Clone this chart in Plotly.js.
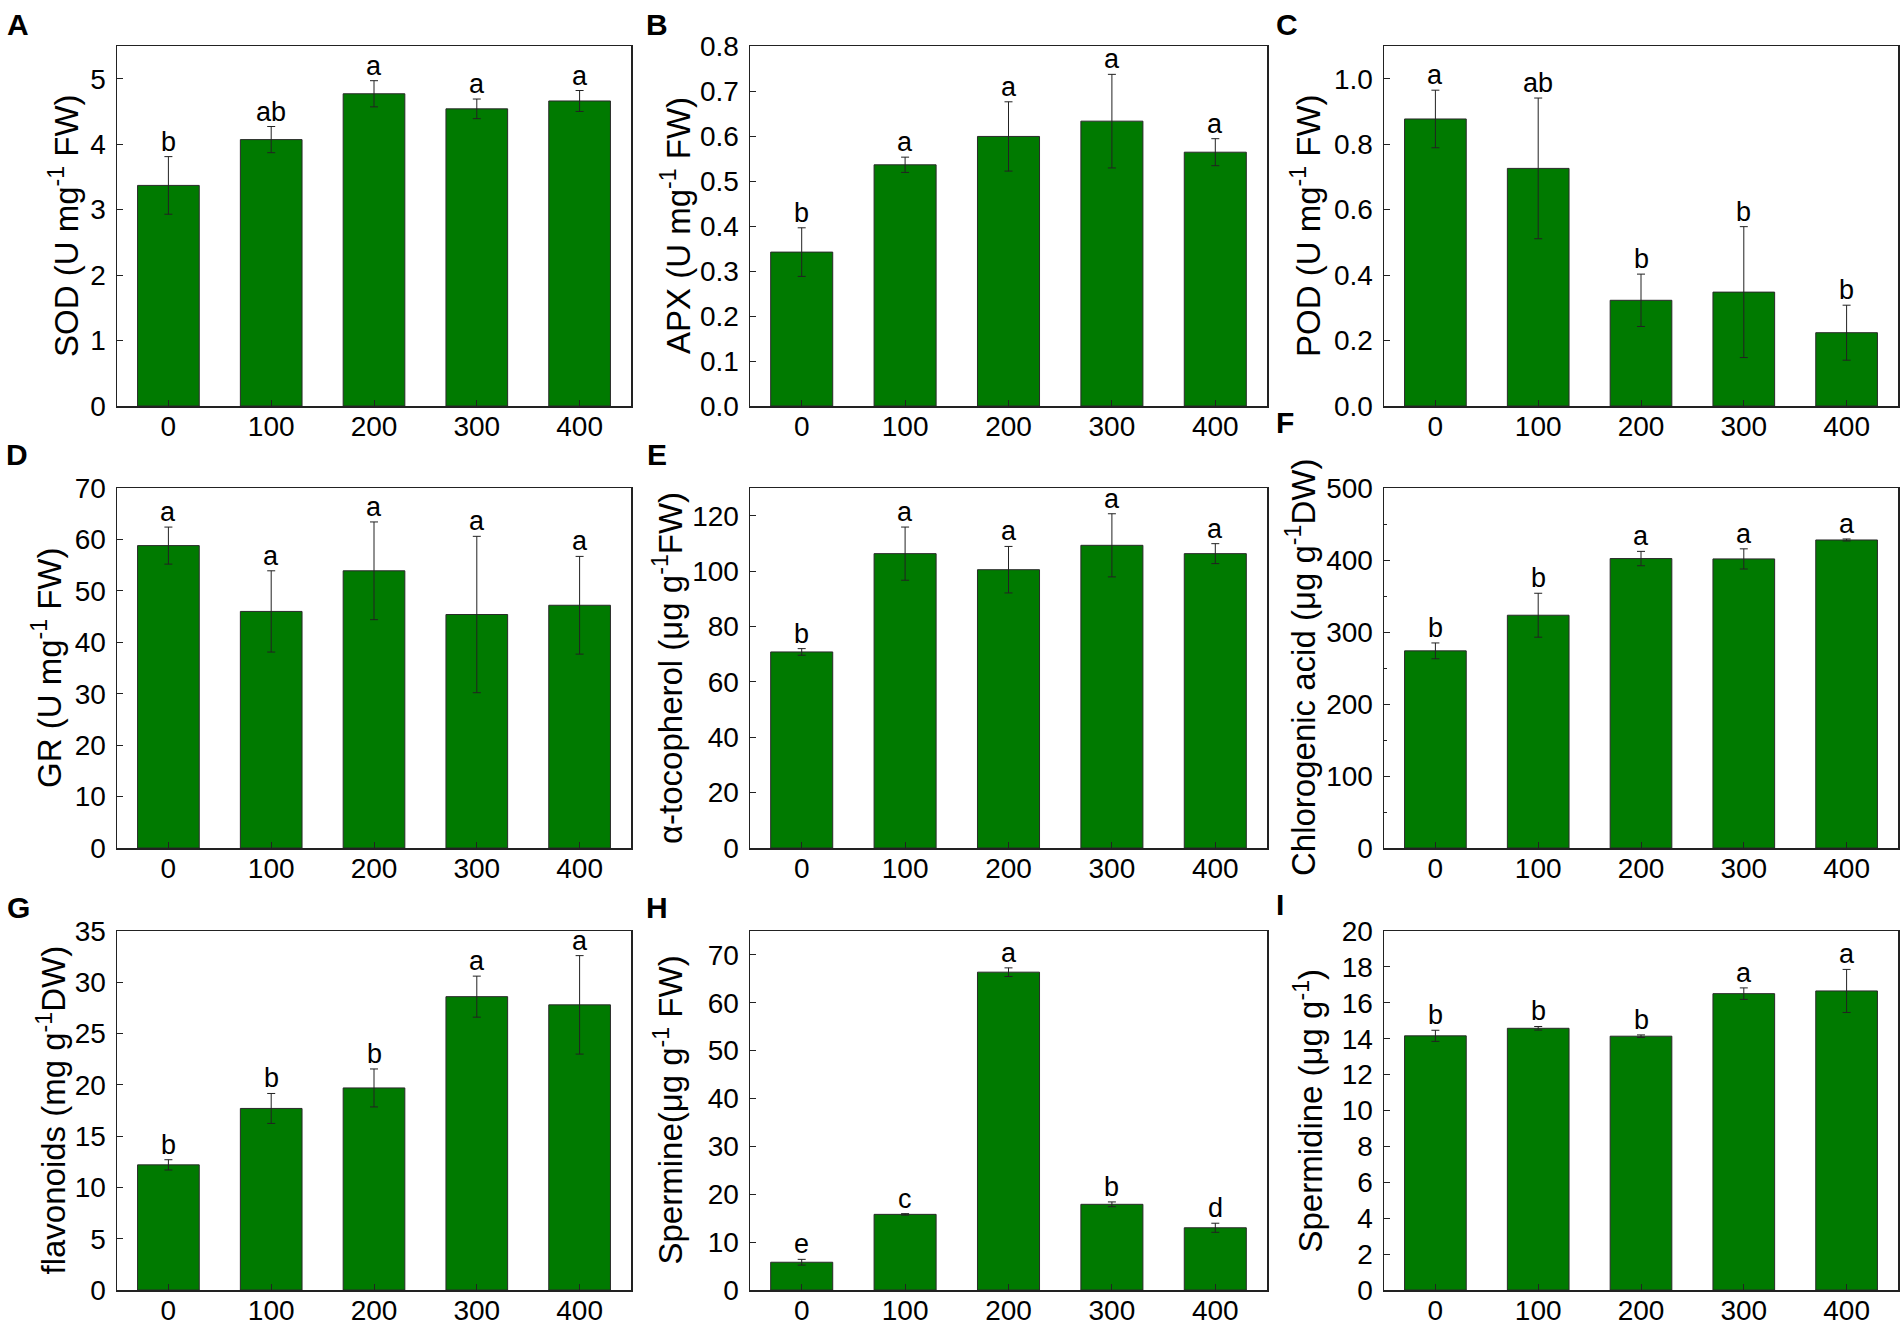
<!DOCTYPE html>
<html>
<head>
<meta charset="utf-8">
<script src="https://cdn.plot.ly/plotly-3.0.1.min.js"></script>
<style>
html,body{margin:0;padding:0;background:#fff;}
#chart{width:1904px;height:1325px;}
</style>
</head>
<body>
<div id="chart"></div>
<script>
// ---- data ----
const categories = ["0", "100", "200", "300", "400"];

const sodMean = [3.37, 4.07, 4.77, 4.54, 4.66];
const sodErr = [0.44, 0.20, 0.20, 0.15, 0.16];
const sodLetters = ["b", "ab", "a", "a", "a"];

const apxMean = [0.342, 0.536, 0.599, 0.633, 0.564];
const apxErr = [0.054, 0.017, 0.077, 0.104, 0.030];
const apxLetters = ["b", "a", "a", "a", "a"];

const podMean = [0.877, 0.726, 0.323, 0.348, 0.224];
const podErr = [0.088, 0.215, 0.080, 0.200, 0.084];
const podLetters = ["a", "ab", "b", "b", "b"];

const grMean = [58.8, 46.0, 53.9, 45.4, 47.2];
const grErr = [3.6, 7.9, 9.5, 15.2, 9.5];
const grLetters = ["a", "a", "a", "a", "a"];

const tocMean = [70.8, 106.3, 100.5, 109.3, 106.3];
const tocErr = [1.2, 9.6, 8.4, 11.4, 3.6];
const tocLetters = ["b", "a", "a", "a", "a"];

const chlMean = [273.8, 323.3, 402.0, 401.5, 427.8];
const chlErr = [11, 30.5, 10, 14, 1.4];
const chlLetters = ["b", "b", "a", "a", "a"];

const flaMean = [12.2, 17.7, 19.7, 28.6, 27.8];
const flaErr = [0.5, 1.46, 1.85, 2.0, 4.8];
const flaLetters = ["b", "b", "b", "a", "a"];

const spmMean = [5.8, 15.8, 66.4, 17.9, 13.0];
const spmErr = [0.6, 0.15, 0.9, 0.5, 0.95];
const spmLetters = ["e", "c", "a", "b", "d"];

const spdMean = [14.16, 14.58, 14.14, 16.51, 16.66];
const spdErr = [0.31, 0.10, 0.07, 0.32, 1.2];
const spdLetters = ["b", "b", "b", "a", "a"];

const panelLabels = ["A", "B", "C", "D", "E", "F", "G", "H", "I"];
const yTitles = [
  "SOD (U mg<sup>-1</sup> FW)",
  "APX (U mg<sup>-1</sup> FW)",
  "POD (U mg<sup>-1</sup> FW)",
  "GR (U mg<sup>-1</sup> FW)",
  "α-tocopherol (μg g<sup>-1</sup>FW)",
  "Chlorogenic acid (μg g<sup>-1</sup>DW)",
  "flavonoids (mg g<sup>-1</sup>DW)",
  "Spermine(μg g<sup>-1</sup> FW)",
  "Spermidine (μg g<sup>-1</sup>)"
];

// ---- layout helpers ----
const W = 1904, H = 1325;
const FONT = "Liberation Sans, Arial, Helvetica, sans-serif";
const GREEN = "#007A00";

const colPx = [[117, 631], [750, 1267], [1384, 1898]];
const rowPx = [[46, 406], [488, 848], [931, 1290]];

const panels = [
  {mean: sodMean, err: sodErr, letters: sodLetters, range: [0, 5.5], dtick: 1, fmt: "d"},
  {mean: apxMean, err: apxErr, letters: apxLetters, range: [0, 0.8], dtick: 0.1, fmt: ".1f"},
  {mean: podMean, err: podErr, letters: podLetters, range: [0, 1.1], dtick: 0.2, fmt: ".1f"},
  {mean: grMean, err: grErr, letters: grLetters, range: [0, 70], dtick: 10, fmt: "d"},
  {mean: tocMean, err: tocErr, letters: tocLetters, range: [0, 130], dtick: 20, fmt: "d"},
  {mean: chlMean, err: chlErr, letters: chlLetters, range: [0, 500], dtick: 100, fmt: "d", minor: 50},
  {mean: flaMean, err: flaErr, letters: flaLetters, range: [0, 35], dtick: 5, fmt: "d"},
  {mean: spmMean, err: spmErr, letters: spmLetters, range: [0, 75], dtick: 10, fmt: "d"},
  {mean: spdMean, err: spdErr, letters: spdLetters, range: [0, 20], dtick: 2, fmt: "d"}
];

const labelPos = [[18, 24], [657, 24], [1287, 24], [17, 454], [657, 454], [1285, 423], [18, 907], [657, 907], [1280, 904]];
const titleX = [64, 676, 1306, 47, 668, 1301, 51, 668, 1308];

const data = [];
const layout = {
  width: W, height: H,
  margin: {l: 0, r: 0, t: 0, b: 0},
  paper_bgcolor: "#fff",
  plot_bgcolor: "#fff",
  showlegend: false,
  bargap: 0.4,
  font: {family: FONT, color: "#000", size: 28},
  annotations: []
};

panels.forEach((p, i) => {
  const r = Math.floor(i / 3), c = i % 3;
  const n = i + 1;
  const xa = "x" + (n === 1 ? "" : n);
  const ya = "y" + (n === 1 ? "" : n);
  const xKey = "xaxis" + (n === 1 ? "" : n);
  const yKey = "yaxis" + (n === 1 ? "" : n);

  data.push({
    type: "bar",
    x: categories,
    y: p.mean,
    xaxis: xa, yaxis: ya,
    marker: {color: GREEN, line: {color: "#2a2a2a", width: 1}},
    error_y: {type: "data", array: p.err, visible: true, color: "#222", thickness: 1, width: 4},
    hoverinfo: "x+y"
  });

  layout[xKey] = {
    domain: [colPx[c][0] / W, colPx[c][1] / W],
    anchor: ya,
    type: "category",
    range: [-0.5, 4.5],
    showline: true, mirror: true, linecolor: "#222", linewidth: 1.5,
    ticks: "inside", ticklen: 6, tickwidth: 1, tickcolor: "#222",
    showgrid: false, zeroline: false,
    tickfont: {family: FONT, size: 28, color: "#000"},
    ticklabelstandoff: -5,
    fixedrange: true
  };
  const yax = {
    domain: [1 - rowPx[r][1] / H, 1 - rowPx[r][0] / H],
    anchor: xa,
    range: p.range,
    dtick: p.dtick,
    tick0: 0,
    tickformat: p.fmt,
    showline: true, mirror: true, linecolor: "#222", linewidth: 1.5,
    ticks: "inside", ticklen: 6, tickwidth: 1, tickcolor: "#222",
    showgrid: false, zeroline: false,
    tickfont: {family: FONT, size: 28, color: "#000"},
    ticklabelstandoff: 4,
    automargin: false,
    fixedrange: true
  };
  if (p.minor) {
    yax.minor = {dtick: p.minor, ticks: "inside", ticklen: 3, tickcolor: "#222", showgrid: false};
  }
  layout[yKey] = yax;

  // y-axis title (rotated text placed beside the axis)
  layout.annotations.push({
    xref: "paper", yref: "paper",
    x: titleX[i] / W,
    y: 1 - (rowPx[r][0] + rowPx[r][1]) / 2 / H,
    xanchor: "center", yanchor: "middle",
    textangle: -90,
    text: yTitles[i], showarrow: false,
    font: {family: FONT, size: 33, color: "#000"}
  });

  // significance letters
  p.letters.forEach((L, k) => {
    layout.annotations.push({
      xref: xa, yref: ya,
      x: k, y: p.mean[k] + p.err[k],
      text: L, showarrow: false,
      yanchor: "bottom", yshift: -2,
      font: {family: FONT, size: 27, color: "#000"}
    });
  });

  // panel label
  layout.annotations.push({
    xref: "paper", yref: "paper",
    x: labelPos[i][0] / W, y: 1 - labelPos[i][1] / H,
    xanchor: "center", yanchor: "middle",
    text: "<b>" + panelLabels[i] + "</b>", showarrow: false,
    font: {family: FONT, size: 30, color: "#000"}
  });
});

Plotly.newPlot("chart", data, layout, {displayModeBar: false, staticPlot: true});
</script>
</body>
</html>
